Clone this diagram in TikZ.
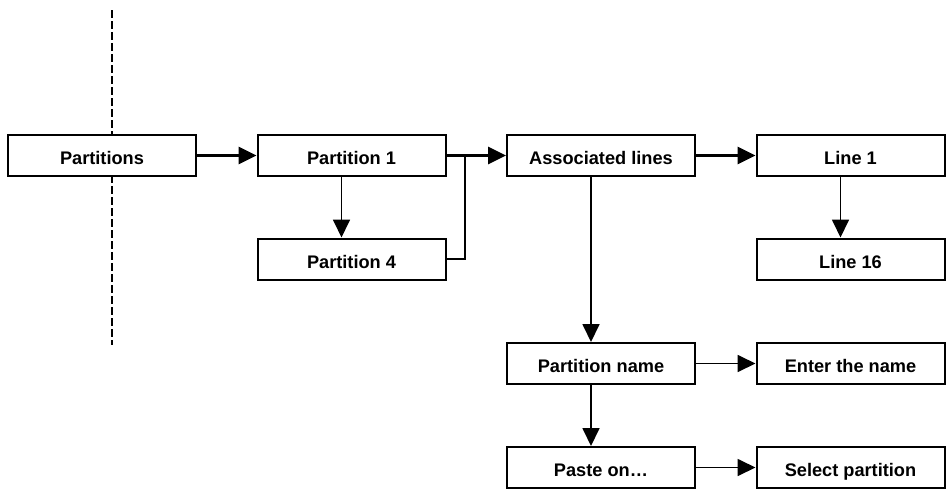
\documentclass[tikz,border=0pt]{standalone}
\usepackage{fontspec}
\setmainfont{Liberation Sans}
\usetikzlibrary{arrows.meta}
\begin{document}
\begin{tikzpicture}[x=1pt,y=-1pt,
  box/.style={draw=black,line width=2pt,fill=white,rectangle,minimum width=188pt,minimum height=41pt,inner sep=0pt,
    text height=19pt,text depth=1pt,font=\fontsize{18.2}{21}\selectfont\bfseries},
  thickarrow/.style={line width=3pt,-{Triangle[length=18pt,width=17pt]}},
  thinarrow/.style={line width=1.8pt,-{Triangle[length=18pt,width=17pt]}},
  thinline/.style={line width=1.8pt},
  dashline/.style={line width=1.4pt,dash pattern=on 8pt off 3pt}]
\useasboundingbox (0,0) rectangle (951,493);
\fill[white] (0,0) rectangle (951,493);
\coordinate (dtop) at (112,10);
\coordinate (dbot) at (112,345);
\draw[dashline] (dtop) -- (dbot);
\node[box] (parts) at (102,155.5) {Partitions};
\node[box] (p1) at (351.5,155.5) {Partition 1};
\node[box] (p4) at (351.5,259) {Partition 4};
\node[box] (assoc) at (601,155.5) {Associated lines};
\node[box] (l1) at (850.5,155.5) {Line 1};
\node[box] (l16) at (850.5,259) {Line 16};
\node[box] (pname) at (601,363.5) {Partition name};
\node[box] (enter) at (850.5,363.5) {Enter the name};
\node[box] (paste) at (601,467.5) {Paste on\ldots};
\node[box] (select) at (850.5,467.5) {Select partition};
\coordinate (j) at (465,155.5);
\draw[thickarrow] (parts.east) -- (p1.west);
\draw[thickarrow] (p1.east) -- (assoc.west);
\draw[thickarrow] (assoc.east) -- (l1.west);
\draw[thinline] (p4.east) -| (j);
\draw[thinarrow] ([xshift=-10pt]p1.south) -- ([xshift=-10pt]p4.north);
\draw[thinarrow] ([xshift=-10pt]l1.south) -- ([xshift=-10pt]l16.north);
\draw[thinarrow] ([xshift=-10pt]assoc.south) -- ([xshift=-10pt]pname.north);
\draw[thinarrow] ([xshift=-10pt]pname.south) -- ([xshift=-10pt]paste.north);
\draw[thinarrow] (pname.east) -- (enter.west);
\draw[thinarrow] (paste.east) -- (select.west);
\end{tikzpicture}
\end{document}
